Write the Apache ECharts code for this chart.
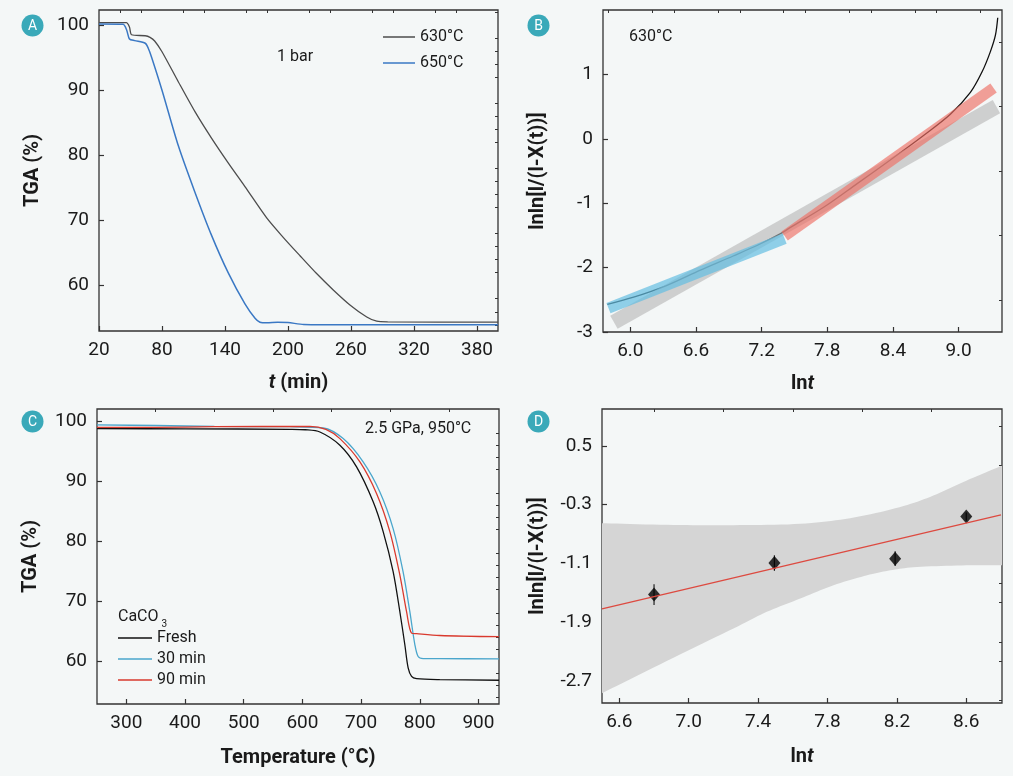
<!DOCTYPE html>
<html>
<head>
<meta charset="utf-8">
<script src="https://cdn.jsdelivr.net/npm/echarts@6/dist/echarts.min.js"></script>
<style>
  html, body { margin: 0; padding: 0; background: #f4f7f7; }
  #main { width: 1013px; height: 776px; }
</style>
</head>
<body>
<div id="main"></div>
<script>
// ---- panel A : TGA vs time, 1 bar ----
var aT630 = [20, 46, 49, 51, 64, 68.6, 73, 80, 95.5, 111.4, 127.3, 143.2, 159, 179.7, 195, 211.4, 227, 243.1, 259, 275, 284.5, 295, 400];
var aW630 = [100.35, 100.35, 99.7, 98.5, 98.35, 98.1, 97.55, 95.9, 91.3, 86.7, 82.6, 78.8, 75.2, 70.4, 67.5, 64.6, 61.9, 59.35, 57.05, 55.2, 54.55, 54.45, 54.4];
var aT650 = [20, 43, 46.4, 49, 54, 64, 67, 70, 80, 95.5, 111, 127, 143, 159, 168.6, 173.3, 180, 190, 200, 215, 260, 400];
var aW650 = [100.15, 100.1, 99.2, 97.85, 97.6, 97.2, 96.4, 95.1, 90.0, 81.5, 74.5, 67.8, 62.0, 57.2, 55.0, 54.4, 54.3, 54.4, 54.35, 54.05, 54.0, 54.0];
var aXTicks = [20, 80, 140, 200, 260, 320, 380];
var aXMinor = [40, 60, 100, 120, 160, 180, 220, 240, 280, 300, 340, 360];
var aYTicks = [60, 70, 80, 90, 100];
var aYMinor = [54, 56, 58, 62, 64, 66, 68, 72, 74, 76, 78, 82, 84, 86, 88, 92, 94, 96, 98, 102];

// ---- panel B : Avrami plot 630°C ----
var bLnt = [5.79, 6.03, 6.33, 6.64, 6.94, 7.19, 7.385, 7.46, 7.77, 8.07, 8.376, 8.68, 8.925, 9.108, 9.215, 9.29, 9.337, 9.358];
var bLnln = [-2.57, -2.46, -2.28, -2.04, -1.82, -1.63, -1.46, -1.38, -1.06, -0.70, -0.33, 0.05, 0.38, 0.72, 1.04, 1.35, 1.61, 1.88];
var bFitGray = [[5.85, -2.85], [9.346, 0.50]];
var bFitBlue = [[5.80, -2.63], [7.41, -1.55]];
var bFitRed = [[7.41, -1.51], [9.32, 0.79]];
var bXTicks = [6.0, 6.6, 7.2, 7.8, 8.4, 9.0];
var bXMinor = [5.8, 6.2, 6.4, 6.8, 7.0, 7.4, 7.6, 8.0, 8.2, 8.6, 8.8, 9.2];
var bYTicks = [-3, -2, -1, 0, 1];
var bYMinor = [-2.5, -1.5, -0.5, 0.5, 1.5];

// ---- panel C : TGA vs temperature, 2.5 GPa ----
var cTFresh = [250, 400, 578.7, 605, 629.8, 663.9, 692.3, 720.6, 737.6, 754.6, 766, 774.5, 780.2, 786, 794.5, 834, 935];
var cWFresh = [98.73, 98.7, 98.62, 98.55, 98.17, 95.97, 92.37, 86.56, 81.6, 74.94, 68.3, 62.8, 58.9, 57.5, 57.13, 56.96, 56.85];
var cT30 = [250, 350, 450, 578.7, 635.5, 669.5, 703.5, 732, 754.6, 771.6, 783, 791.6, 797.2, 805.7, 834, 935];
var cW30 = [99.35, 99.25, 99.1, 99.05, 98.84, 97.07, 93.2, 88.2, 82.1, 74.9, 68.3, 62.8, 60.8, 60.45, 60.45, 60.4];
var cT90 = [250, 350, 450, 612.8, 640, 663.9, 698, 726.3, 749, 766, 777.4, 786, 794.5, 834, 935];
var cW90 = [98.95, 98.95, 99.05, 99.1, 98.6, 97.07, 93.2, 87.95, 81.6, 74.4, 68.3, 64.7, 64.6, 64.3, 64.1];
var cXTicks = [300, 400, 500, 600, 700, 800, 900];
var cXMinor = [350, 450, 550, 650, 750, 850];
var cYTicks = [60, 70, 80, 90, 100];
var cYMinor = [54, 56, 58, 62, 64, 66, 68, 72, 74, 76, 78, 82, 84, 86, 88, 92, 94, 96, 98];

// ---- panel D : fit with confidence band ----
var dLnt = [6.80, 7.494, 8.19, 8.60];
var dLnln = [-1.525, -1.096, -1.037, -0.463];
var dErr = [0.14, 0.106, 0.1, 0.056];
var dFit = [[6.5, -1.718], [8.8, -0.439]];
var dUpX = [6.5, 6.873, 7.258, 7.643, 7.93, 8.215, 8.41, 8.60, 8.806];
var dUpY = [-0.553, -0.576, -0.58, -0.562, -0.485, -0.336, -0.178, 0.025, 0.229];
var dLowX = [6.5, 6.873, 7.258, 7.45, 7.643, 7.835, 8.028, 8.162, 8.316, 8.60, 8.806];
var dLowY = [-2.867, -2.429, -1.986, -1.76, -1.579, -1.398, -1.263, -1.195, -1.15, -1.127, -1.127];
var dXTicks = [6.6, 7.0, 7.4, 7.8, 8.2, 8.6];
var dXMinor = [6.8, 7.2, 7.6, 8.0, 8.4];
var dYTicks = [0.5, -0.3, -1.1, -1.9, -2.7];
var dYMinor = [0.7667, 0.2333, -0.0333, -0.5667, -0.8333, -1.3667, -1.6333, -2.1667, -2.4333, -2.9667];

var FONT = 'Roboto, "Noto Sans", sans-serif';
var INK = '#1a1a1a';
var FRAME = '#333';

function zip(xs, ys) {
  return xs.map(function (x, i) { return [x, ys[i]]; });
}

// catmull-rom through pixel points so the band edges come out smooth
function smoothPx(pts, steps) {
  var out = [];
  for (var i = 0; i < pts.length - 1; i++) {
    var p0 = pts[Math.max(i - 1, 0)], p1 = pts[i], p2 = pts[i + 1], p3 = pts[Math.min(i + 2, pts.length - 1)];
    for (var s = 0; s < steps; s++) {
      var t = s / steps, t2 = t * t, t3 = t2 * t;
      var pt = [0, 1].map(function (k) {
        return 0.5 * (2 * p1[k] + (-p0[k] + p2[k]) * t + (2 * p0[k] - 5 * p1[k] + 4 * p2[k] - p3[k]) * t2 +
          (-p0[k] + 3 * p1[k] - 3 * p2[k] + p3[k]) * t3);
      });
      out.push(pt);
    }
  }
  out.push(pts[pts.length - 1]);
  return out;
}

var nameStyle = {
  fontFamily: FONT, fontSize: 20, fontWeight: 'bold', color: INK,
  rich: { i: { fontFamily: FONT, fontSize: 20, fontWeight: 'bold', fontStyle: 'italic', color: INK } }
};

// main axis (labels + major ticks) and an overlay axis carrying only minor ticks
function axisPair(grid, min, max, major, minor, fmt, name, gap) {
  var main = {
    type: 'value', gridIndex: grid, min: min, max: max,
    name: name, nameLocation: 'middle', nameGap: gap, nameTextStyle: nameStyle,
    axisLine: { show: false, onZero: false }, splitLine: { show: false },
    axisTick: { inside: true, length: 5, customValues: major, lineStyle: { color: FRAME, width: 1.2 } },
    axisLabel: { customValues: major, formatter: fmt, fontFamily: FONT, fontSize: 19, color: INK, margin: 10 }
  };
  var sub = {
    type: 'value', gridIndex: grid, min: min, max: max,
    axisLine: { show: false, onZero: false }, splitLine: { show: false },
    axisTick: { inside: true, length: 3, customValues: minor, lineStyle: { color: FRAME, width: 1 } },
    axisLabel: { show: false }
  };
  return [main, sub];
}

var intFmt = function (v) { return String(Math.round(v)); };
var oneFmt = function (v) { return v.toFixed(1); };

var xAxes = [].concat(
  axisPair(0, 20, 400, aXTicks, aXMinor, intFmt, '{i|t} (min)', 42),
  axisPair(1, 5.75, 9.397, bXTicks, bXMinor, oneFmt, 'ln{i|t}', 42),
  axisPair(2, 250, 935, cXTicks, cXMinor, intFmt, 'Temperature (°C)', 44),
  axisPair(3, 6.5, 8.806, dXTicks, dXMinor, oneFmt, 'ln{i|t}', 44)
);
var yAxes = [].concat(
  axisPair(0, 53.05, 102.3, aYTicks, aYMinor, intFmt, 'TGA (%)', 56),
  axisPair(1, -3, 2, bYTicks, bYMinor, intFmt, 'lnln[l/(l-X(t))]', 55),
  axisPair(2, 52.9, 102, cYTicks, cYMinor, intFmt, 'TGA (%)', 56),
  axisPair(3, -3, 1, dYTicks, dYMinor, oneFmt, 'lnln[l/(l-X(t))]', 54)
);

function line(name, ax, data, color, width, smooth) {
  return {
    name: name, type: 'line', xAxisIndex: ax, yAxisIndex: ax, data: data,
    showSymbol: false, symbol: 'none', smooth: smooth, silent: true,
    lineStyle: { color: color, width: width, cap: 'butt' },
    itemStyle: { color: color }
  };
}

var series = [
  // A
  line('630°C', 0, zip(aT630, aW630), '#4d4d4d', 1.3, 0.25),
  line('650°C', 0, zip(aT650, aW650), '#3a78c4', 1.5, 0.25),
  // B
  line('curveB', 2, zip(bLnt, bLnln), '#111', 1.3, 0.3),
  line('fitGray', 2, bFitGray, 'rgba(180,180,180,0.6)', 15, false),
  line('fitBlue', 2, bFitBlue, 'rgba(100,190,225,0.7)', 11, false),
  line('fitRed', 2, bFitRed, 'rgba(238,110,100,0.65)', 11, false),
  // C
  line('Fresh', 4, zip(cTFresh, cWFresh), '#111111', 1.3, 0.3),
  line('30 min', 4, zip(cT30, cW30), '#4aa6cc', 1.3, 0.3),
  line('90 min', 4, zip(cT90, cW90), '#d93a2e', 1.3, 0.3),
  // D confidence band: upper edge forward, lower edge back
  {
    name: 'bandD', type: 'custom', xAxisIndex: 6, yAxisIndex: 6, silent: true, clip: true,
    data: [[dUpX[0], dUpY[0]]], encode: { x: 0, y: 1 },
    renderItem: function (params, api) {
      var up = smoothPx(dUpX.map(function (x, i) { return api.coord([x, dUpY[i]]); }), 10);
      var low = smoothPx(dLowX.map(function (x, i) { return api.coord([x, dLowY[i]]); }), 10);
      return { type: 'polygon', shape: { points: up.concat(low.reverse()) }, style: { fill: '#d5d5d5' } };
    }
  },
  line('fitD', 6, dFit, '#dd4a40', 1.3, false),
  {
    name: 'errD', type: 'custom', xAxisIndex: 6, yAxisIndex: 6, silent: true,
    data: dLnt.map(function (x, i) { return [x, dLnln[i], dErr[i]]; }),
    encode: { x: 0, y: 1 },
    renderItem: function (params, api) {
      var x = api.value(0), y = api.value(1), e = api.value(2);
      var p1 = api.coord([x, y - e]);
      var p2 = api.coord([x, y + e]);
      return {
        type: 'line',
        shape: { x1: p1[0], y1: p1[1], x2: p2[0], y2: p2[1] },
        style: { stroke: '#222', lineWidth: 1.2 }
      };
    }
  },
  {
    name: 'pointsD', type: 'scatter', xAxisIndex: 6, yAxisIndex: 6, silent: true,
    data: zip(dLnt, dLnln), symbol: 'diamond', symbolSize: [12, 14],
    itemStyle: { color: '#000' }
  }
];

function badge(cx, cy, letter) {
  return [
    { type: 'circle', shape: { cx: cx, cy: cy, r: 11 }, style: { fill: '#3aa9b9' }, silent: true },
    { type: 'text', x: cx, y: cy + 0.5, silent: true,
      style: { text: letter, fill: '#fff', font: '14px ' + FONT, align: 'center', verticalAlign: 'middle' } }
  ];
}
function note(x, y, text, size) {
  return { type: 'text', x: x, y: y, silent: true,
    style: { text: text, fill: INK, font: (size || 16) + 'px ' + FONT, align: 'left', verticalAlign: 'middle' } };
}

var graphics = [].concat(
  badge(32.5, 25.5, 'A'), badge(538.5, 25.5, 'B'), badge(32.5, 421.5, 'C'), badge(538.5, 421.5, 'D'),
  [
    note(277, 57, '1 bar'),
    note(629, 37, '630°C'),
    note(365, 429, '2.5 GPa, 950°C'),
    note(118, 616.5, 'CaCO'),
    note(161.5, 624, '3', 10)
  ]
);

var legendText = { fontFamily: FONT, fontSize: 16, color: INK, lineHeight: 16 };

var option = {
  backgroundColor: '#f4f7f7',
  animation: false,
  grid: [
    { left: 99, top: 10, width: 399, height: 321 },
    { left: 603, top: 10, width: 399, height: 322 },
    { left: 97, top: 409, width: 402, height: 295 },
    { left: 602, top: 409, width: 400, height: 294 }
  ].map(function (g) {
    g.show = true; g.borderColor = FRAME; g.borderWidth = 1.3; g.backgroundColor = 'transparent';
    return g;
  }),
  xAxis: xAxes,
  yAxis: yAxes,
  legend: [
    { data: ['630°C', '650°C'], left: 383, top: 29, orient: 'vertical', padding: 0,
      icon: 'rect', itemWidth: 32, itemHeight: 1.5, itemGap: 10, textStyle: legendText, selectedMode: false },
    { data: ['Fresh', '30 min', '90 min'], left: 118, top: 630, orient: 'vertical', padding: 0,
      icon: 'rect', itemWidth: 34, itemHeight: 1.5, itemGap: 5, textStyle: legendText, selectedMode: false }
  ],
  graphic: graphics,
  series: series
};

var chart = echarts.init(document.getElementById('main'), null, { renderer: 'canvas' });
chart.setOption(option);
</script>
</body>
</html>
